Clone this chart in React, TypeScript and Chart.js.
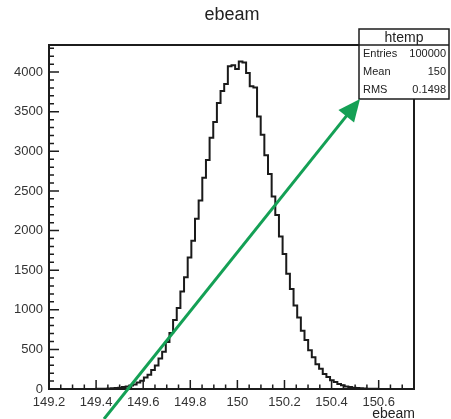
import React, { useEffect, useRef } from 'react';
import { Chart, registerables } from 'chart.js';

Chart.register(...registerables);

// ---- data ----
const X_MIN = 149.2;
const X_MAX = 150.75;
const Y_MAX = 4342;

const binCounts = [
  0, 0, 0, 0, 0, 0, 0, 0, 0, 0,
  0, 1, 1, 2, 3, 4, 5, 9, 12, 17,
  24, 31, 45, 58, 83, 105, 145, 181, 240, 298,
  385, 470, 592, 708, 870, 1021, 1232, 1410, 1660, 1872,
  2150, 2380, 2665, 2890, 3170, 3370, 3610, 3760, 3850, 4075,
  4085, 4040, 4135, 4120, 3990, 3820, 3805, 3440, 3210, 2950,
  2715, 2430, 2195, 1925, 1705, 1455, 1262, 1055, 902, 736,
  618, 490, 402, 312, 255, 190, 152, 110, 88, 62,
  48, 33, 26, 17, 13, 9, 6, 4, 3, 2,
  1, 1, 0, 0, 0, 0, 0, 0, 0, 0,
];

const xTickValues = [149.2, 149.4, 149.6, 149.8, 150, 150.2, 150.4, 150.6];
const xTickLabels = ['149.2', '149.4', '149.6', '149.8', '150', '150.2', '150.4', '150.6'];
const yTickValues = [0, 500, 1000, 1500, 2000, 2500, 3000, 3500, 4000];
const yTickLabels = ['0', '500', '1000', '1500', '2000', '2500', '3000', '3500', '4000'];

const chartTitle = 'ebeam';
const xAxisTitle = 'ebeam';
const statsTitle = 'htemp';
const statsNames = ['Entries', 'Mean', 'RMS'];
const statsValues = ['100000', '150', '0.1498'];

const FONT = '"Liberation Sans", Arial, Helvetica, sans-serif';

const rootDecor = {
  id: 'rootDecor',
  afterDraw(chart: any) {
    const { ctx, chartArea: ca, scales } = chart;
    const xs = scales.x;
    const ys = scales.y;
    ctx.save();

    // frame
    ctx.strokeStyle = '#1c1c1c';
    ctx.lineWidth = 2;
    ctx.strokeRect(ca.left, ca.top, ca.right - ca.left, ca.bottom - ca.top);

    // y ticks (inside)
    ctx.lineWidth = 1.5;
    ctx.beginPath();
    for (let k = 0; k * 100 <= Y_MAX; k++) {
      const y = ys.getPixelForValue(k * 100);
      const len = k % 5 === 0 ? 10 : 5;
      ctx.moveTo(ca.left, y);
      ctx.lineTo(ca.left + len, y);
    }
    // x ticks (inside)
    const tickStep = 0.05;
    for (let k = 0; X_MIN + k * tickStep <= X_MAX + 1e-9; k++) {
      const x = xs.getPixelForValue(X_MIN + k * tickStep);
      const len = k % 4 === 0 ? 9 : 4.5;
      ctx.moveTo(x, ca.bottom);
      ctx.lineTo(x, ca.bottom - len);
    }
    ctx.stroke();

    // title
    ctx.fillStyle = '#222';
    ctx.font = `18px ${FONT}`;
    ctx.textAlign = 'center';
    ctx.textBaseline = 'middle';
    ctx.fillText(chartTitle, 232, 15);

    // x axis title
    ctx.font = `14px ${FONT}`;
    ctx.textAlign = 'right';
    ctx.textBaseline = 'alphabetic';
    ctx.fillText(xAxisTitle, ca.right + 1, 418);

    // stats box
    const bx = 359, by = 29, bw = 90, bh = 70, hh = 16;
    ctx.fillStyle = '#fff';
    ctx.fillRect(bx, by, bw, bh);
    ctx.strokeStyle = '#1c1c1c';
    ctx.lineWidth = 1.5;
    ctx.strokeRect(bx, by, bw, bh);
    ctx.beginPath();
    ctx.moveTo(bx, by + hh);
    ctx.lineTo(bx + bw, by + hh);
    ctx.stroke();
    ctx.fillStyle = '#222';
    ctx.font = `14px ${FONT}`;
    ctx.textAlign = 'center';
    ctx.textBaseline = 'middle';
    ctx.fillText(statsTitle, bx + bw / 2, by + hh / 2 + 1);
    ctx.font = `11px ${FONT}`;
    const rowH = (bh - hh) / statsNames.length;
    statsNames.forEach((name, i) => {
      const yy = by + hh + rowH * (i + 0.5);
      ctx.textAlign = 'left';
      ctx.fillText(name, bx + 4, yy);
      ctx.textAlign = 'right';
      ctx.fillText(statsValues[i], bx + bw - 3, yy);
    });

    // arrow
    const x0 = 104, y0 = 419, x1 = 360, y1 = 99;
    const dx = x1 - x0, dy = y1 - y0;
    const L = Math.hypot(dx, dy);
    const ux = dx / L, uy = dy / L;
    const headLen = 22, headHalf = 10;
    const baseX = x1 - ux * headLen, baseY = y1 - uy * headLen;
    ctx.strokeStyle = '#14a055';
    ctx.fillStyle = '#14a055';
    ctx.lineWidth = 3;
    ctx.beginPath();
    ctx.moveTo(x0, y0);
    ctx.lineTo(baseX + ux * 2, baseY + uy * 2);
    ctx.stroke();
    ctx.beginPath();
    ctx.moveTo(x1, y1);
    ctx.lineTo(baseX - uy * headHalf, baseY + ux * headHalf);
    ctx.lineTo(baseX + uy * headHalf, baseY - ux * headHalf);
    ctx.closePath();
    ctx.fill();

    ctx.restore();
  },
};

export default function App() {
  const ref = useRef<HTMLCanvasElement | null>(null);

  useEffect(() => {
    document.body.style.margin = '0';
    const canvas = ref.current;
    if (!canvas) return;
    const binWidth = (X_MAX - X_MIN) / binCounts.length;
    const points = binCounts.map((c, i) => ({ x: X_MIN + i * binWidth, y: c }));
    points.push({ x: X_MAX, y: 0 });

    const chart = new Chart(canvas, {
      type: 'line',
      data: {
        datasets: [
          {
            data: points,
            stepped: 'before',
            borderColor: '#1a1a1a',
            borderWidth: 2,
            pointRadius: 0,
            fill: false,
          } as any,
        ],
      },
      options: {
        responsive: false,
        maintainAspectRatio: false,
        animation: false,
        events: [],
        layout: { padding: { left: 0, right: 37, top: 45, bottom: 0 } },
        plugins: {
          legend: { display: false },
          tooltip: { enabled: false },
          title: { display: false },
        },
        scales: {
          x: {
            type: 'linear',
            min: X_MIN,
            max: X_MAX,
            grid: { display: false, drawTicks: false },
            border: { display: false },
            afterBuildTicks: (s: any) => {
              s.ticks = xTickValues.map((v) => ({ value: v }));
            },
            afterFit: (s: any) => {
              s.height = 30;
            },
            ticks: {
              autoSkip: false,
              maxRotation: 0,
              padding: 6,
              color: '#333',
              font: { family: FONT, size: 13 },
              callback: (_v: any, i: number) => xTickLabels[i],
            },
          },
          y: {
            type: 'linear',
            min: 0,
            max: Y_MAX,
            grid: { display: false, drawTicks: false },
            border: { display: false },
            afterBuildTicks: (s: any) => {
              s.ticks = yTickValues.map((v) => ({ value: v }));
            },
            afterFit: (s: any) => {
              s.width = 49;
            },
            ticks: {
              autoSkip: false,
              padding: 6,
              color: '#333',
              font: { family: FONT, size: 13 },
              callback: (_v: any, i: number) => yTickLabels[i],
            },
          },
        },
      },
      plugins: [rootDecor],
    });
    return () => chart.destroy();
  }, []);

  return <canvas ref={ref} width={451} height={419} style={{ display: 'block' }} />;
}
